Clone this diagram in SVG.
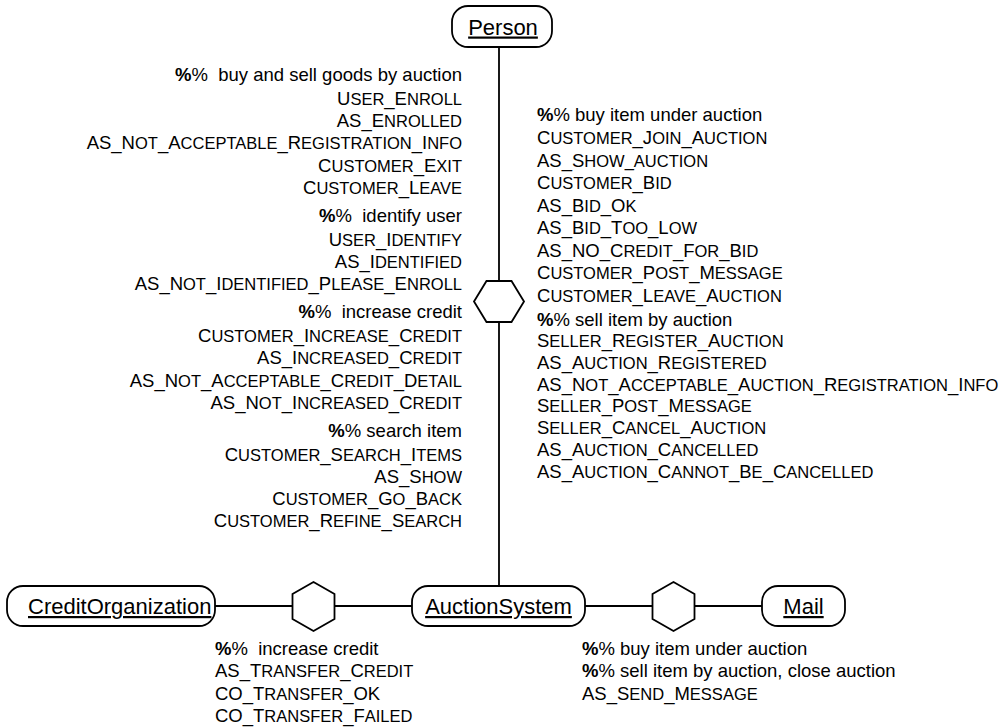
<svg xmlns="http://www.w3.org/2000/svg" width="1008" height="727" viewBox="0 0 1008 727">
<style>
text{font-family:"Liberation Sans",Arial,sans-serif;font-size:18.5px;fill:#000}
.s{font-size:16.5px}
.p{font-weight:bold}
.r{text-anchor:end}
.n{font-size:22px;text-decoration:underline}
.box{fill:#fff;stroke:#000;stroke-width:1.8}
.hex{fill:#fff;stroke:#000;stroke-width:1.8}
.ln{stroke:#000;stroke-width:1.8;fill:none}
</style>
<rect width="1008" height="727" fill="#fff"/>
<g id="connectors">
<line class="ln" x1="499" y1="47" x2="499" y2="586"/>
<line class="ln" x1="215" y1="606" x2="412" y2="606"/>
<line class="ln" x1="585" y1="606" x2="762" y2="606"/>
</g>
<g id="hex-person-auction"><polygon class="hex" points="474,301.5 486.5,281 511.5,281 524,301.5 511.5,322 486.5,322"/></g>
<g id="hex-credit-auction"><polygon class="hex" points="313.5,582 334.5,594 334.5,619 313.5,631 292.5,619 292.5,594"/></g>
<g id="hex-auction-mail"><polygon class="hex" points="673.5,582 694.5,594 694.5,619 673.5,631 652.5,619 652.5,594"/></g>
<g id="Person"><rect class="box" x="452" y="6" width="100" height="41" rx="16"/><text class="n" x="503" y="34.5" text-anchor="middle">Person</text></g>
<g id="CreditOrganization"><rect class="box" x="7" y="586" width="208" height="40" rx="16"/><text class="n" x="28" y="614">CreditOrganization</text></g>
<g id="AuctionSystem"><rect class="box" x="412" y="586" width="173" height="40" rx="16"/><text class="n" x="498.5" y="614" text-anchor="middle">AuctionSystem</text></g>
<g id="Mail"><rect class="box" x="762" y="586" width="83" height="40" rx="16"/><text class="n" x="803.5" y="614" text-anchor="middle">Mail</text></g>
<g id="labels-person-auction-left">
<text class="r" x="462" y="81" xml:space="preserve"><tspan class="p">%</tspan>%  buy and sell goods by auction</text>
<text class="r" x="462" y="105">U<tspan class="s">SER</tspan>_E<tspan class="s">NROLL</tspan></text>
<text class="r" x="462" y="127.2">AS_E<tspan class="s">NROLLED</tspan></text>
<text class="r" x="462" y="149.4">AS_N<tspan class="s">OT</tspan>_A<tspan class="s">CCEPTABLE</tspan>_R<tspan class="s">EGISTRATION</tspan>_I<tspan class="s">NFO</tspan></text>
<text class="r" x="462" y="171.6">C<tspan class="s">USTOMER</tspan>_E<tspan class="s">XIT</tspan></text>
<text class="r" x="462" y="193.8">C<tspan class="s">USTOMER</tspan>_L<tspan class="s">EAVE</tspan></text>
<text class="r" x="462" y="221.8" xml:space="preserve"><tspan class="p">%</tspan>%  identify user</text>
<text class="r" x="462" y="245.8">U<tspan class="s">SER</tspan>_I<tspan class="s">DENTIFY</tspan></text>
<text class="r" x="462" y="268">AS_I<tspan class="s">DENTIFIED</tspan></text>
<text class="r" x="462" y="290.2">AS_N<tspan class="s">OT</tspan>_I<tspan class="s">DENTIFIED</tspan>_P<tspan class="s">LEASE</tspan>_E<tspan class="s">NROLL</tspan></text>
<text class="r" x="462" y="318.2" xml:space="preserve"><tspan class="p">%</tspan>%  increase credit</text>
<text class="r" x="462" y="342.2">C<tspan class="s">USTOMER</tspan>_I<tspan class="s">NCREASE</tspan>_C<tspan class="s">REDIT</tspan></text>
<text class="r" x="462" y="364.4">AS_I<tspan class="s">NCREASED</tspan>_C<tspan class="s">REDIT</tspan></text>
<text class="r" x="462" y="386.6">AS_N<tspan class="s">OT</tspan>_A<tspan class="s">CCEPTABLE</tspan>_C<tspan class="s">REDIT</tspan>_D<tspan class="s">ETAIL</tspan></text>
<text class="r" x="462" y="408.8">AS_N<tspan class="s">OT</tspan>_I<tspan class="s">NCREASED</tspan>_C<tspan class="s">REDIT</tspan></text>
<text class="r" x="462" y="436.8"><tspan class="p">%</tspan>% search item</text>
<text class="r" x="462" y="460.8">C<tspan class="s">USTOMER</tspan>_S<tspan class="s">EARCH</tspan>_I<tspan class="s">TEMS</tspan></text>
<text class="r" x="462" y="483">AS_S<tspan class="s">HOW</tspan></text>
<text class="r" x="462" y="505.2">C<tspan class="s">USTOMER</tspan>_G<tspan class="s">O</tspan>_B<tspan class="s">ACK</tspan></text>
<text class="r" x="462" y="527.4">C<tspan class="s">USTOMER</tspan>_R<tspan class="s">EFINE</tspan>_S<tspan class="s">EARCH</tspan></text>
</g>
<g id="labels-person-auction-right">
<text x="537" y="121"><tspan class="p">%</tspan>% buy item under auction</text>
<text x="537" y="144">C<tspan class="s">USTOMER</tspan>_J<tspan class="s">OIN</tspan>_A<tspan class="s">UCTION</tspan></text>
<text x="537" y="166.5">AS_S<tspan class="s">HOW_AUCTION</tspan></text>
<text x="537" y="189">C<tspan class="s">USTOMER</tspan>_B<tspan class="s">ID</tspan></text>
<text x="537" y="211.5">AS_B<tspan class="s">ID</tspan>_O<tspan class="s">K</tspan></text>
<text x="537" y="234">AS_B<tspan class="s">ID</tspan>_T<tspan class="s">OO</tspan>_L<tspan class="s">OW</tspan></text>
<text x="537" y="256.5">AS_NO_C<tspan class="s">REDIT</tspan>_F<tspan class="s">OR</tspan>_B<tspan class="s">ID</tspan></text>
<text x="537" y="279">C<tspan class="s">USTOMER</tspan>_P<tspan class="s">OST</tspan>_M<tspan class="s">ESSAGE</tspan></text>
<text x="537" y="301.5">C<tspan class="s">USTOMER</tspan>_L<tspan class="s">EAVE</tspan>_A<tspan class="s">UCTION</tspan></text>
<text x="537" y="326"><tspan class="p">%</tspan>% sell item by auction</text>
<text x="537" y="347">S<tspan class="s">ELLER</tspan>_R<tspan class="s">EGISTER</tspan>_A<tspan class="s">UCTION</tspan></text>
<text x="537" y="368.8">AS_A<tspan class="s">UCTION</tspan>_R<tspan class="s">EGISTERED</tspan></text>
<text x="537" y="390.6">AS_N<tspan class="s">OT</tspan>_A<tspan class="s">CCEPTABLE</tspan>_A<tspan class="s">UCTION</tspan>_R<tspan class="s">EGISTRATION</tspan>_I<tspan class="s">NFO</tspan></text>
<text x="537" y="412.4">S<tspan class="s">ELLER</tspan>_P<tspan class="s">OST</tspan>_M<tspan class="s">ESSAGE</tspan></text>
<text x="537" y="434.2">S<tspan class="s">ELLER</tspan>_C<tspan class="s">ANCEL</tspan>_A<tspan class="s">UCTION</tspan></text>
<text x="537" y="456">AS_A<tspan class="s">UCTION</tspan>_C<tspan class="s">ANCELLED</tspan></text>
<text x="537" y="477.8">AS_A<tspan class="s">UCTION</tspan>_C<tspan class="s">ANNOT</tspan>_B<tspan class="s">E</tspan>_C<tspan class="s">ANCELLED</tspan></text>
</g>
<g id="labels-credit-auction">
<text x="215" y="655" xml:space="preserve"><tspan class="p">%</tspan>%  increase credit</text>
<text x="215" y="677.3">AS_T<tspan class="s">RANSFER</tspan>_C<tspan class="s">REDIT</tspan></text>
<text x="215" y="699.6">CO_T<tspan class="s">RANSFER</tspan>_OK</text>
<text x="215" y="722">CO_T<tspan class="s">RANSFER</tspan>_F<tspan class="s">AILED</tspan></text>
</g>
<g id="labels-auction-mail">
<text x="582" y="655"><tspan class="p">%</tspan>% buy item under auction</text>
<text x="582" y="677.3"><tspan class="p">%</tspan>% sell item by auction, close auction</text>
<text x="582" y="699.6">AS_S<tspan class="s">END</tspan>_M<tspan class="s">ESSAGE</tspan></text>
</g>
</svg>
